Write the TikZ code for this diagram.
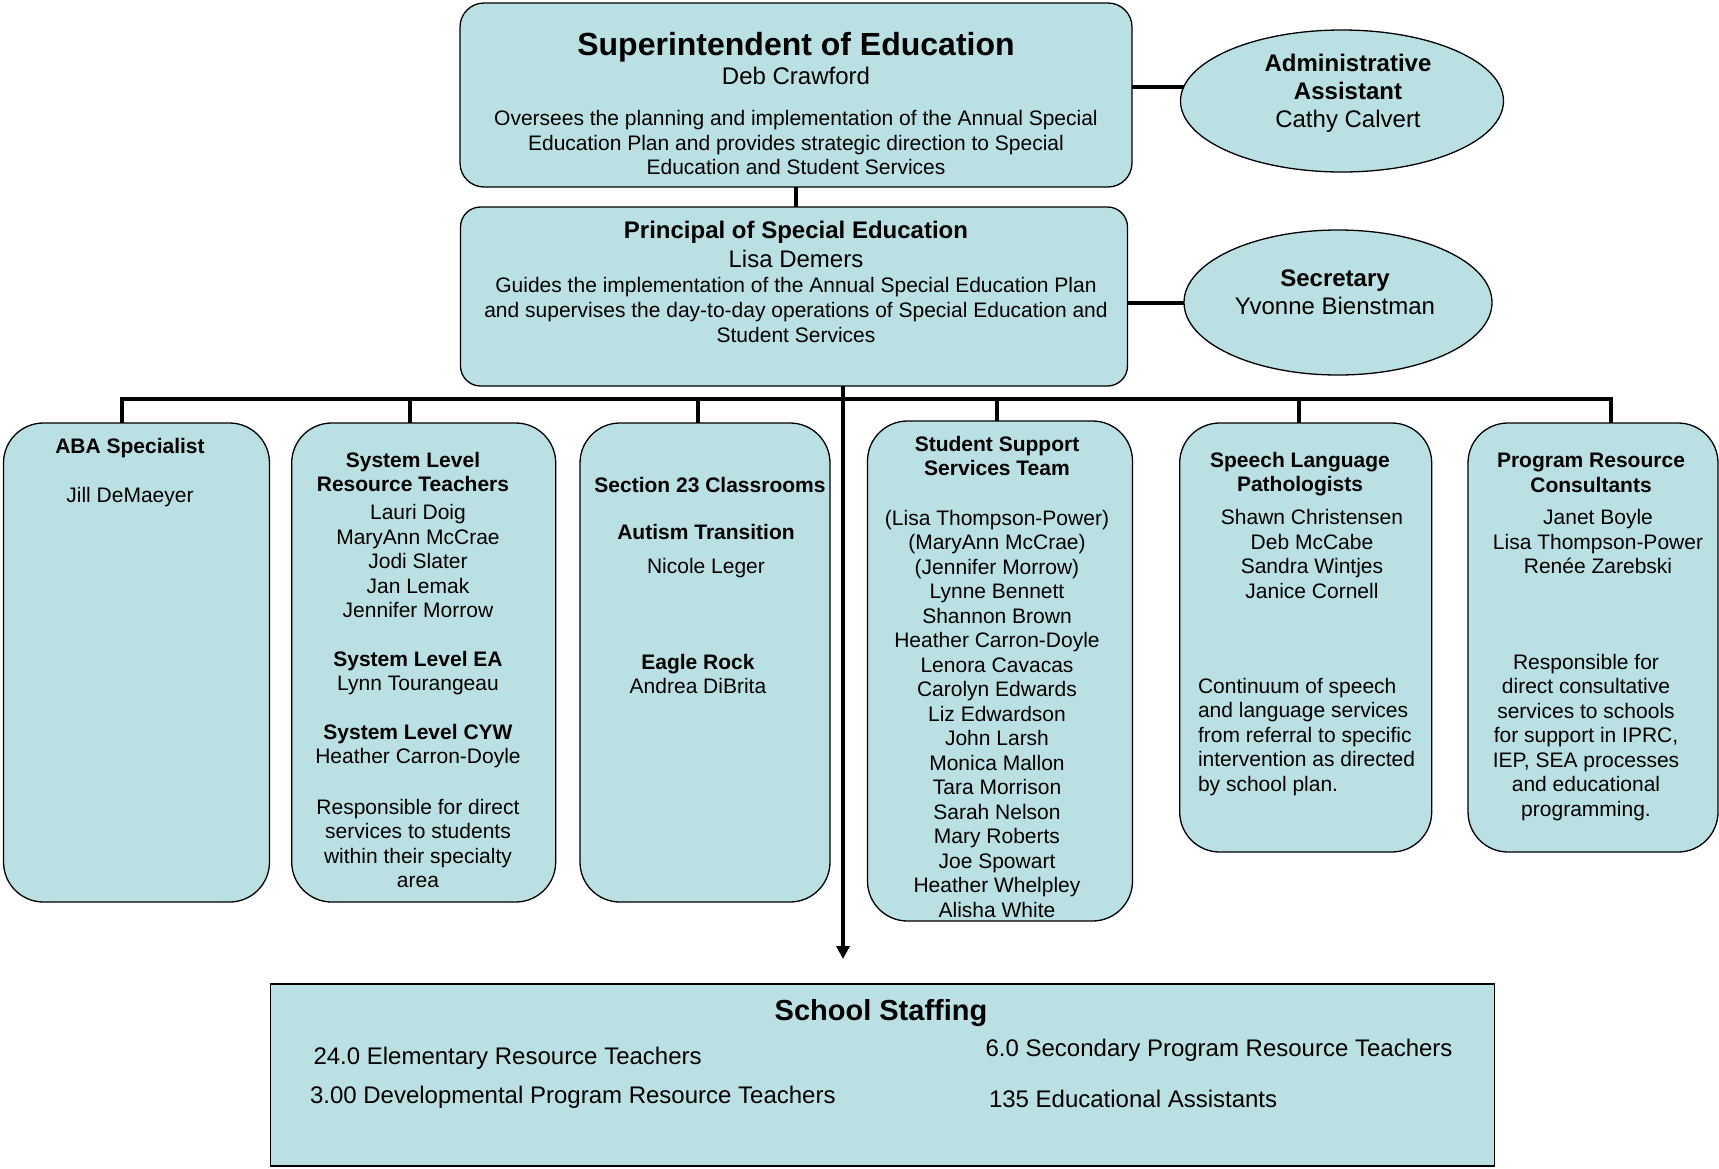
\documentclass[tikz,border=0pt]{standalone}
\usepackage{fontspec}
\setmainfont{Liberation Sans}
\usetikzlibrary{positioning,calc,shapes.geometric,arrows.meta}
\definecolor{paleteal}{RGB}{186,224,228}

\begin{document}
\begin{tikzpicture}[x=1pt, y=-1pt,
  every node/.style={inner sep=0pt, outer sep=0pt},
  card/.style={draw, fill=paleteal, line width=1.3pt, rounded corners=40pt},
  oval/.style={draw, fill=paleteal, line width=1.3pt, ellipse},
  link/.style={line width=4pt},
  bighead/.style={font=\fontsize{32}{36}\selectfont\bfseries},
  head/.style={font=\fontsize{24}{28}\selectfont\bfseries, align=center},
  who/.style={font=\fontsize{24}{28}\selectfont, align=center},
  desc/.style={font=\fontsize{21}{24.6}\selectfont, align=center},
  colhead/.style={font=\fontsize{21}{24.5}\selectfont\bfseries, align=center},
  coltext/.style={font=\fontsize{21}{24.5}\selectfont, align=center},
  staffline/.style={font=\fontsize{24}{28}\selectfont, anchor=west}]

\useasboundingbox (0,0) rectangle (1719,1168);

% superintendent and assistant
\node (supt) [card, rounded corners=24pt, minimum width=672pt, minimum height=184pt] at (796,95) {};
\node (suptT) [bighead] at (796,47) {Superintendent of Education};
\node (suptN) [who] at (796,76) {Deb Crawford};
\node (suptD) [desc] at (796,142.5) {Oversees the planning and implementation of the Annual Special\\Education Plan and provides strategic direction to Special\\Education and Student Services};

\node (admin) [oval, minimum width=323pt, minimum height=142pt] at (1342,101) {};
\node (adminT) [who] at (1348,93) {\textbf{Administrative}\\\textbf{Assistant}\\Cathy Calvert};

% principal and secretary
\node (prin) [card, rounded corners=20pt, minimum width=667pt, minimum height=179pt] at (794,296.5) {};
\node (prinT) [head] at (796,232) {Principal of Special Education};
\node (prinN) [who] at (796,259) {Lisa Demers};
\node (prinD) [desc] at (796,310) {Guides the implementation of the Annual Special Education Plan\\and supervises the day-to-day operations of Special Education and\\Student Services};

\node (sec) [oval, minimum width=308pt, minimum height=145pt] at (1338,302.5) {};
\node (secT) [who] at (1335,292.5) {\textbf{Secretary}\\Yvonne Bienstman};

% the six teams
\node (aba) [card, minimum width=266pt, minimum height=479pt] at (136.5,662.5) {};
\node (abaT) [colhead] at (130,448) {ABA Specialist};
\node (abaN) [coltext] at (130,497) {Jill DeMaeyer};

\node (slrt) [card, minimum width=264pt, minimum height=479pt] at (423.7,662.5) {};
\node (slrtT) [colhead] at (413,472) {System Level\\Resource Teachers};
\node (slrtN) [coltext] at (418,561) {Lauri Doig\\MaryAnn McCrae\\Jodi Slater\\Jan Lemak\\Jennifer Morrow};
\node (slrtEA) [coltext] at (418,673) {\textbf{System Level EA}\\Lynn Tourangeau};
\node (slrtCYW) [coltext] at (418,746) {\textbf{System Level CYW}\\Heather Carron-Doyle};
\node (slrtD) [coltext] at (418,843.5) {Responsible for direct\\services to students\\within their specialty\\area};

\node (sec23) [card, minimum width=250pt, minimum height=479pt] at (705,662.5) {};
\node (sec23T) [colhead] at (710,484.5) {Section 23 Classrooms};
\node (autT) [colhead] at (706,531.6) {Autism Transition};
\node (autN) [coltext] at (706,568) {Nicole Leger};
\node (eagle) [coltext] at (698,674) {\textbf{Eagle Rock}\\Andrea DiBrita};

\node (ssst) [card, minimum width=265pt, minimum height=500pt] at (1000,671) {};
\node (ssstT) [colhead] at (997,456) {Student Support\\Services Team};
\node (ssstN) [coltext] at (997,713.6) {(Lisa Thompson-Power)\\(MaryAnn McCrae)\\(Jennifer Morrow)\\Lynne Bennett\\Shannon Brown\\Heather Carron-Doyle\\Lenora Cavacas\\Carolyn Edwards\\Liz Edwardson\\John Larsh\\Monica Mallon\\Tara Morrison\\Sarah Nelson\\Mary Roberts\\Joe Spowart\\Heather Whelpley\\Alisha White};

\node (slp) [card, minimum width=252pt, minimum height=429pt] at (1305.7,637.5) {};
\node (slpT) [colhead] at (1300,474) {Speech Language\\Pathologists};
\node (slpN) [coltext] at (1312,554) {Shawn Christensen\\Deb McCabe\\Sandra Wintjes\\Janice Cornell};
\node (slpD) [coltext, align=left, anchor=west] at (1198,737) {Continuum of speech\\and language services\\from referral to specific\\intervention as directed\\by school plan.};

\node (prc) [card, minimum width=250pt, minimum height=429pt] at (1593,637.5) {};
\node (prcT) [colhead] at (1591,473) {Program Resource\\Consultants};
\node (prcN) [coltext] at (1598,541.5) {Janet Boyle\\Lisa Thompson-Power\\Renée Zarebski};
\node (prcD) [coltext] at (1586,737.5) {Responsible for\\direct consultative\\services to schools\\for support in IPRC,\\IEP, SEA processes\\and educational\\programming.};

% school staffing
\node (staff) [draw, fill=paleteal, line width=1.3pt, minimum width=1223.5pt, minimum height=182pt] at (882.5,1075) {};
\node (staffT) [font=\fontsize{29}{34}\selectfont\bfseries] at (881,1013) {School Staffing};
\node (elem) [staffline] at (313.5,1058.6) {24.0 Elementary Resource Teachers};
\node (devel) [staffline] at (310,1097.5) {3.00 Developmental Program Resource Teachers};
\node (second) [staffline] at (985.6,1050.5) {6.0 Secondary Program Resource Teachers};
\node (eas) [staffline] at (989,1098.5) {135 Educational Assistants};

% connectors
\draw [link] (supt.east |- admin.175) -- (admin.175);
\draw [link] (supt.south) -- (supt.south |- prin.north);
\draw [link] (prin.east |- sec.west) -- (sec.west);

\coordinate (b1) at (121.7,399);
\coordinate (b2) at (410,399);
\coordinate (b3) at (698.3,399);
\coordinate (b4) at (996.5,399);
\coordinate (b5) at (1299,399);
\coordinate (b6) at (1610.5,399);
\coordinate (tap) at ($(prin.south)+(49,0)$);

\draw [link] (b1 |- aba.north) -- (b1) -- (b6) -- (b6 |- prc.north);
\draw [link] (b2) -- (b2 |- slrt.north);
\draw [link] (b3) -- (b3 |- sec23.north);
\draw [link] (b4) -- (b4 |- ssst.north);
\draw [link] (b5) -- (b5 |- slp.north);
\draw [link, -{Triangle[width=13pt,length=13pt]}, shorten >=25pt] (tap) -- (tap |- staff.north);

\end{tikzpicture}
\end{document}
